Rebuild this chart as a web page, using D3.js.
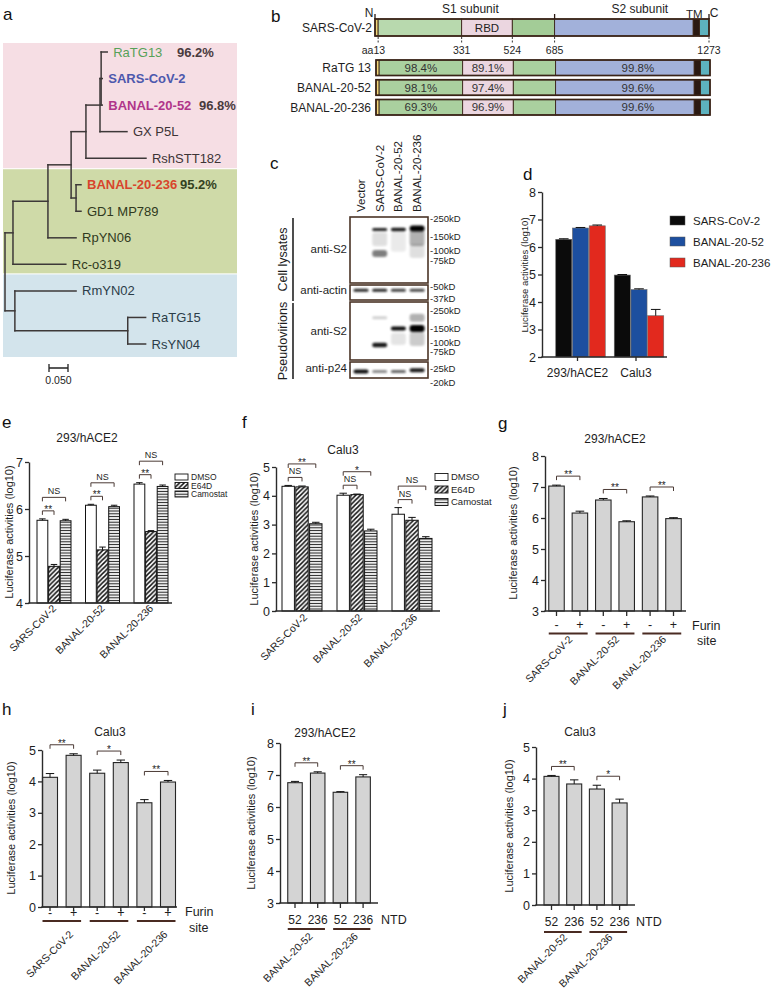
<!DOCTYPE html>
<html>
<head>
<meta charset="utf-8">
<script src="https://cdn.jsdelivr.net/npm/d3@7"></script>
<style>
html,body{margin:0;padding:0;background:#fff;}
svg{display:block;}
</style>
</head>
<body>
<svg id="fig" width="774" height="999"></svg>
<script>
// ======================= DATA =======================
// (a) phylogeny (branch lengths, substitutions/site)
const treeLeaves = ["RaTG13","SARS-CoV-2","BANAL-20-52","GX P5L","RshSTT182","BANAL-20-236","GD1 MP789","RpYN06","Rc-o319","RmYN02","RaTG15","RsYN04"];
const treeData = {name:"root", len:0, children:[
  {name:"n1", len:0.021, children:[
    {name:"n2", len:0.092, children:[
      {name:"n3", len:0.061, children:[
        {name:"n4", len:0.039, children:[
          {name:"n5", len:0.037, children:[
            {name:"n6", len:0.003, children:[
              {name:"RaTG13", len:0.016},
              {name:"SARS-CoV-2", len:0.003},
              {name:"BANAL-20-52", len:0.003}]},
            {name:"GX P5L", len:0.071}]},
          {name:"RshSTT182", len:0.158}]},
        {name:"n7", len:0.013, children:[
          {name:"BANAL-20-236", len:0.013},
          {name:"GD1 MP789", len:0.013}]}]},
      {name:"RpYN06", len:0.074}]},
    {name:"Rc-o319", len:0.139}]},
  {name:"n8", len:0.026, children:[
    {name:"RmYN02", len:0.161},
    {name:"n9", len:0.297, children:[
      {name:"RaTG15", len:0.047},
      {name:"RsYN04", len:0.047}]}]}]};
const identityLeaves = ["RaTG13","BANAL-20-52","BANAL-20-236"];
const identityValues = ["96.2%","96.8%","95.2%"];
const cladeGroups = [["RaTG13","RshSTT182"],["BANAL-20-236","Rc-o319"],["RmYN02","RsYN04"]];
const scaleBarValue = 0.05;
const scaleBarLabel = "0.050";

// (b) spike domains
const spikeRegions = [
  {name:"SP", start:1, end:13},
  {name:"NTD", start:13, end:331},
  {name:"RBD", start:331, end:524},
  {name:"SD", start:524, end:685},
  {name:"S2", start:685, end:1213},
  {name:"TM", start:1213, end:1237},
  {name:"CT", start:1237, end:1273}];
const spikeTicks = [13,331,524,685,1273];
const spikeVariants = ["RaTG 13","BANAL-20-52","BANAL-20-236"];
const ntdIdentity = ["98.4%","98.1%","69.3%"];
const rbdIdentity = ["89.1%","97.4%","96.9%"];
const s2Identity = ["99.8%","99.6%","99.6%"];

// (c) western blot
const blotLanes = ["Vector","SARS-CoV-2","BANAL-20-52","BANAL-20-236"];
const blotAntibodies = ["anti-S2","anti-actin","anti-S2","anti-p24"];
const blotGroups = [{name:"Cell lysates", blots:[0,1]},{name:"Pseudovirions", blots:[2,3]}];
const blotMarkers = [[250,150,100,75],[50,37],[250,150,100,75],[25,20]];
const blotBands = [
  [ {lane:1,kd:185,int:0.85,th:3}, {lane:1,kd:140,int:0.12,th:14}, {lane:1,kd:93,int:0.5,th:7},
    {lane:2,kd:185,int:0.9,th:3.5}, {lane:2,kd:130,int:0.08,th:20},
    {lane:3,kd:190,int:1.0,th:6}, {lane:3,kd:145,int:0.3,th:16}, {lane:3,kd:100,int:0.12,th:14} ],
  [ {lane:0,kd:46,int:0.85,th:3}, {lane:1,kd:46,int:0.85,th:3}, {lane:2,kd:46,int:0.75,th:3}, {lane:3,kd:46,int:0.72,th:3} ],
  [ {lane:1,kd:205,int:0.18,th:3}, {lane:1,kd:92,int:0.9,th:4.5},
    {lane:2,kd:150,int:0.95,th:4}, {lane:2,kd:110,int:0.1,th:12},
    {lane:3,kd:150,int:1.0,th:7}, {lane:3,kd:205,int:0.3,th:8}, {lane:3,kd:110,int:0.2,th:14} ],
  [ {lane:0,kd:24,int:0.95,th:4}, {lane:1,kd:24,int:0.45,th:3}, {lane:2,kd:24,int:0.6,th:3}, {lane:3,kd:24.5,int:0.9,th:4} ]
];

// (d)
const dCells = ["293/hACE2","Calu3"];
const dSeries = ["SARS-CoV-2","BANAL-20-52","BANAL-20-236"];
const dSARS = [6.28, 4.98];
const dB52 = [6.69, 4.45];
const dB236 = [6.77, 3.50];
const dErrSARS = [0.02, 0.02];
const dErrB52 = [0.02, 0.03];
const dErrB236 = [0.03, 0.23];

// (e), (f)
const inhibStrains = ["SARS-CoV-2","BANAL-20-52","BANAL-20-236"];
const treatments = ["DMSO","E64D","Camostat"];
const eDMSO = [5.76, 6.08, 6.53];
const eE64D = [4.78, 5.13, 5.52];
const eCamostat = [5.75, 6.05, 6.48];
const eErrDMSO = [0.03, 0.02, 0.03];
const eErrE64D = [0.04, 0.06, 0.02];
const eErrCamostat = [0.03, 0.03, 0.03];
const eSigE64D = ["**","**","**"];
const eSigCamostat = ["NS","NS","NS"];
const fDMSO = [4.33, 4.02, 3.36];
const fE64D = [4.31, 4.04, 3.15];
const fCamostat = [3.03, 2.78, 2.52];
const fErrDMSO = [0.03, 0.07, 0.23];
const fErrE64D = [0.03, 0.02, 0.10];
const fErrCamostat = [0.05, 0.06, 0.06];
const fSigE64D = ["NS","NS","NS"];
const fSigCamostat = ["**","*","NS"];

// (g), (h) furin site
const furinStrains = ["SARS-CoV-2","BANAL-20-52","BANAL-20-236"];
const furinSites = ["-","+"];
const gValues = [7.03, 6.16, 6.58, 5.88, 6.68, 5.98];
const gErrors = [0.03, 0.06, 0.05, 0.03, 0.03, 0.03];
const gSig = ["**","**","**"];
const hValues = [4.13, 4.83, 4.26, 4.60, 3.32, 3.98];
const hErrors = [0.12, 0.05, 0.10, 0.08, 0.10, 0.05];
const hSig = ["**","*","**"];

// (i), (j) NTD swap
const ntdStrains = ["BANAL-20-52","BANAL-20-236"];
const ntdLabels = ["52","236"];
const iValues = [6.76, 7.06, 6.46, 6.94];
const iErrors = [0.04, 0.04, 0.02, 0.07];
const iSig = ["**","**"];
const jValues = [4.07, 3.83, 3.67, 3.23];
const jErrors = [0.03, 0.13, 0.12, 0.12];
const jSig = ["**","*"];

// ======================= DRAWING =======================
const svg = d3.select("#fig");
const FONT = '"Liberation Sans", Arial, Helvetica, sans-serif';
svg.attr("font-family", FONT);
svg.append("rect").attr("width",774).attr("height",999).attr("fill","#fff");
const INK = "#1e1e1e", AXC = "#2b2b2b";

const defs = svg.append("defs");
const pd = defs.append("pattern").attr("id","diag").attr("patternUnits","userSpaceOnUse").attr("width",4.6).attr("height",4.6);
pd.append("rect").attr("width",4.6).attr("height",4.6).attr("fill","#fff");
pd.append("path").attr("d","M-1.15,1.15 l2.3,-2.3 M0,4.6 l4.6,-4.6 M3.45,5.75 l2.3,-2.3").attr("stroke","#111").attr("stroke-width",1.5);
const ph = defs.append("pattern").attr("id","horiz").attr("patternUnits","userSpaceOnUse").attr("width",4).attr("height",2.8);
ph.append("rect").attr("width",4).attr("height",2.8).attr("fill","#fff");
ph.append("line").attr("x1",0).attr("x2",4).attr("y1",1.4).attr("y2",1.4).attr("stroke","#222").attr("stroke-width",1.1);
const fb = defs.append("filter").attr("id","blur").attr("x","-30%").attr("y","-150%").attr("width","160%").attr("height","400%");
fb.append("feGaussianBlur").attr("stdDeviation",0.9);

function T(x,y,s,size,o={}){
  const t=svg.append("text").attr("x",x).attr("y",y).attr("font-size",size).attr("fill",o.fill||INK).text(s);
  if(o.anchor) t.attr("text-anchor",o.anchor);
  if(o.weight) t.attr("font-weight",o.weight);
  return t;
}
function TR(x,y,s,size,angle,anchor){
  return svg.append("text").attr("transform",`translate(${x},${y}) rotate(${angle})`)
    .attr("text-anchor",anchor).attr("font-size",size).attr("fill",INK).text(s);
}
function panelLabel(s,x,y){ T(x,y,s,17,{fill:"#111"}); }
function bandScale(domain, c0, step, bw){
  const r0 = c0 - step/2, pi = 1 - bw/step;
  return d3.scaleBand().domain(domain).range([r0, r0 + domain.length*step]).paddingInner(pi).paddingOuter(pi/2);
}
function bracket(x1,x2,yy,label){
  svg.append("path").attr("d",`M${x1},${yy+4}V${yy}H${x2}V${yy+4}`).attr("fill","none").attr("stroke","#4b3a35").attr("stroke-width",1);
  if(label==="NS") T((x1+x2)/2, yy-3, label, 9, {anchor:"middle"});
  else T((x1+x2)/2, yy+2, label, 10, {anchor:"middle"});
}
function yAxis(ax0, y, ticks, fs){
  const g = svg.append("g").attr("transform",`translate(${ax0},0)`)
    .call(d3.axisLeft(y).tickValues(ticks).tickSize(4).tickSizeOuter(0).tickPadding(2).tickFormat(d3.format("d")));
  g.attr("font-family",FONT).attr("font-size",fs||12.5);
  g.select(".domain").attr("stroke",AXC).attr("stroke-width",1.4);
  g.selectAll(".tick line").attr("stroke",AXC).attr("stroke-width",1.3);
  g.selectAll(".tick text").attr("fill",INK);
  return g;
}
function xLine(ax0, ax1, yy){
  svg.append("line").attr("x1",ax0-0.7).attr("x2",ax1).attr("y1",yy).attr("y2",yy).attr("stroke",AXC).attr("stroke-width",1.4);
}
function yLabel(x, yc, fs){
  svg.append("text").attr("transform",`translate(${x},${yc}) rotate(-90)`).attr("text-anchor","middle")
    .attr("dominant-baseline","central").attr("font-size",fs).attr("fill",INK).text("Luciferase activities (log10)");
}
function errBar(xc, y, v, e, cap){
  if(!e) return;
  const y0=y(v), y1=y(v+e);
  svg.append("path").attr("d",`M${xc},${y0}V${y1}M${xc-cap},${y1}H${xc+cap}`).attr("stroke","#111").attr("stroke-width",1).attr("fill","none");
}

// ---------- (a) ----------
panelLabel("a",3,20);
(function(){
  const A = {x0:5, yFirst:52, yLast:344, rectX:3, rectW:234};
  const tx = d3.scaleLinear().domain([0,scaleBarValue]).range([A.x0, A.x0+19]);
  const ty = d3.scalePoint().domain(treeLeaves).range([A.yFirst, A.yLast]);
  const cladeFill = ["#f6dee4","#cfdaa8","#d3e4ec"];
  const cladePad = [[-9,10],[-15.5,9],[-16.5,13]];
  const cladeText = ["#3d3436","#2f3920","#2b3c48"];
  const leafClade = {};
  cladeGroups.forEach((g,i)=>{
    const i0 = treeLeaves.indexOf(g[0]), i1 = treeLeaves.indexOf(g[1]);
    treeLeaves.slice(i0,i1+1).forEach(l=>leafClade[l]=i);
    const y0 = ty(g[0])+cladePad[i][0], y1 = ty(g[1])+cladePad[i][1];
    svg.append("rect").attr("x",A.rectX).attr("y",y0).attr("width",A.rectW).attr("height",y1-y0).attr("fill",cladeFill[i]);
  });
  const root = d3.hierarchy(treeData);
  root.eachBefore(n=>{ n.dist = n.parent ? n.parent.dist + n.data.len : 0; });
  root.eachAfter(n=>{ n.py = n.children ? (n.children[0].py + n.children[n.children.length-1].py)/2 : ty(n.data.name); });
  const tg = svg.append("g").attr("stroke","#3d3838").attr("stroke-width",1.5).attr("stroke-linecap","square").attr("fill","none");
  root.descendants().forEach(n=>{
    if(n.parent) tg.append("line").attr("x1",tx(n.parent.dist)).attr("x2",tx(n.dist)).attr("y1",n.py).attr("y2",n.py);
    if(n.children) tg.append("line").attr("x1",tx(n.dist)).attr("x2",tx(n.dist)).attr("y1",n.children[0].py).attr("y2",n.children[n.children.length-1].py);
  });
  const leafColor = {"RaTG13":"#57a158","SARS-CoV-2":"#4d58ad","BANAL-20-52":"#b0358a","BANAL-20-236":"#d8452c"};
  const bold = new Set(["SARS-CoV-2","BANAL-20-52","BANAL-20-236"]);
  const pctX = {"RaTG13":177,"BANAL-20-52":199,"BANAL-20-236":180};
  const pctColor = ["#4a3a3d","#4a3a3d","#34421f"];
  root.leaves().forEach(n=>{
    const nm = n.data.name;
    T(tx(n.dist)+6, n.py+4.5, nm, 13, {fill: leafColor[nm]||cladeText[leafClade[nm]], weight: bold.has(nm)?"bold":null});
  });
  identityLeaves.forEach((l,i)=>{
    T(pctX[l], ty(l)+4.5, identityValues[i], 13, {fill:pctColor[i], weight:"bold"});
  });
  // scale bar
  const sbx = 49, sby = 368;
  svg.append("path").attr("d",`M${sbx},${sby}H${sbx+tx(scaleBarValue)-tx(0)}M${sbx},${sby-4}V${sby+4}M${sbx+tx(scaleBarValue)-tx(0)},${sby-4}V${sby+4}`)
    .attr("stroke","#222").attr("stroke-width",1.3).attr("fill","none");
  T(sbx+(tx(scaleBarValue)-tx(0))/2, 384, scaleBarLabel, 10.5, {anchor:"middle"});
})();

// ---------- (b) ----------
panelLabel("b",271,22);
(function(){
  const B = {x0:375, x1:709, refY:19, refH:17, rowC0:67.75, rowStep:19.75, rowH:15.5, labelX:371, varShift:1};
  const aa = d3.scaleLinear().domain([1,1273]).range([B.x0,B.x1]);
  const refFill = {SP:"#f0d77a",NTD:"#b8d9ae",RBD:"#ebd6e0",SD:"#a3cc97",S2:"#a2b1da",TM:"#2a1912",CT:"#5db2be"};
  const varFill = Object.assign({}, refFill, {NTD:"#aad09f", SD:"#aad09f"});
  const nudge = {NTD:0, RBD:0, S2:13};
  const reg = n => spikeRegions.find(r=>r.name===n);
  const mid = n => (aa(reg(n).start)+aa(reg(n).end))/2 + nudge[n];
  function spikeBar(y0,h,fills,dx){
    const g = svg.append("g").attr("transform",`translate(${dx},0)`);
    spikeRegions.forEach(r=>{
      g.append("rect").attr("x",aa(r.start)).attr("y",y0).attr("width",aa(r.end)-aa(r.start)).attr("height",h)
        .attr("fill",fills[r.name]).attr("stroke","#3a2418").attr("stroke-width",0.9);
    });
    g.append("rect").attr("x",aa(1)).attr("y",y0).attr("width",aa(1273)-aa(1)).attr("height",h)
      .attr("fill","none").attr("stroke","#3a2418").attr("stroke-width",1.7);
  }
  spikeBar(B.refY, B.refH, refFill, 0);
  T(B.labelX+1, B.refY+B.refH/2+4.5, "SARS-CoV-2", 12, {anchor:"end"});
  T(mid("RBD"), B.refY+B.refH/2+4.5, "RBD", 11.5, {anchor:"middle"});
  svg.append("path").attr("d",`M${aa(1)},14V${B.refY}M${aa(685)},14V${B.refY}M${aa(1273)},14V${B.refY}`)
    .attr("stroke","#2a1912").attr("stroke-width",1.3);
  T(aa(1)-6, 17, "N", 12, {anchor:"middle"});
  T(aa(1273)+5, 17, "C", 12, {anchor:"middle"});
  T(aa(1225)-2, 18, "TM", 11.5, {anchor:"middle"});
  T((aa(13)+aa(685))/2+4, 13, "S1 subunit", 12, {anchor:"middle"});
  T((aa(685)+aa(1273))/2+8, 13, "S2 subunit", 12, {anchor:"middle"});
  spikeTicks.forEach((t,i)=>{
    svg.append("line").attr("x1",aa(t)).attr("x2",aa(t)).attr("y1",B.refY+B.refH+1).attr("y2",B.refY+B.refH+8)
      .attr("stroke","#333").attr("stroke-width",1).attr("stroke-dasharray","2,1.5");
    if(i===0) T(aa(t)+7, 54, "aa"+t, 10.5, {anchor:"end"});
    else T(aa(t), 54, String(t), 10.5, {anchor:"middle"});
  });
  const ry = bandScale(spikeVariants, B.rowC0, B.rowStep, B.rowH);
  spikeVariants.forEach((v,i)=>{
    const y0 = ry(v), h = ry.bandwidth();
    spikeBar(y0, h, varFill, B.varShift);
    T(B.labelX, y0+h/2+4.3, v, 12, {anchor:"end"});
    T(mid("NTD")+B.varShift, y0+h/2+4, ntdIdentity[i], 11.5, {anchor:"middle", fill:"#333"});
    T(mid("RBD")+B.varShift, y0+h/2+4, rbdIdentity[i], 11.5, {anchor:"middle", fill:"#333"});
    T(mid("S2")+B.varShift, y0+h/2+4, s2Identity[i], 11.5, {anchor:"middle", fill:"#333"});
  });
})();

// ---------- (c) ----------
panelLabel("c",270,169);
(function(){
  const C = {laneC0:361, laneStep:18.7, laneW:15, boxX0:350, boxX1:428,
    boxes:[[217,283],[285,300],[302,360],[362,378]],
    kdRange:[[219,261],[287,299],[311,352],[369,383]],
    abY:[249,290,331,368], abX:347, mwX:430, laneLabelY:212, groupX:283, groupLineX:293};
  const lx = bandScale(blotLanes, C.laneC0, C.laneStep, C.laneW);
  blotLanes.forEach(l=>{
    svg.append("text").attr("transform",`translate(${lx(l)+lx.bandwidth()/2+4},${C.laneLabelY}) rotate(-90)`)
      .attr("font-size",11.5).attr("fill",INK).text(l);
  });
  blotMarkers.forEach((mk,bi)=>{
    const [b0,b1] = C.boxes[bi];
    const ky = d3.scaleLog().domain([mk[0], mk[mk.length-1]]).range(C.kdRange[bi]);
    const g = svg.append("g");
    g.append("rect").attr("x",C.boxX0).attr("y",b0).attr("width",C.boxX1-C.boxX0).attr("height",b1-b0).attr("fill","#fff");
    const cp = "clip"+bi;
    defs.append("clipPath").attr("id",cp).append("rect").attr("x",C.boxX0).attr("y",b0).attr("width",C.boxX1-C.boxX0).attr("height",b1-b0);
    const bg = g.append("g").attr("clip-path",`url(#${cp})`);
    blotBands[bi].forEach(b=>{
      const xc = lx(blotLanes[b.lane]) + lx.bandwidth()/2;
      bg.append("rect").attr("x",xc-7.5).attr("y",ky(b.kd)-b.th/2).attr("width",15).attr("height",b.th)
        .attr("rx",Math.min(3,b.th/2)).attr("fill","#000").attr("opacity",b.int).attr("filter","url(#blur)");
    });
    g.append("rect").attr("x",C.boxX0).attr("y",b0).attr("width",C.boxX1-C.boxX0).attr("height",b1-b0)
      .attr("fill","none").attr("stroke","#4a3426").attr("stroke-width",1.6);
    mk.forEach(m=> T(C.mwX, ky(m)+3.3, "-"+m+"kD", 9.5, {}));
    T(C.abX, C.abY[bi]+4, blotAntibodies[bi], 11.5, {anchor:"end"});
  });
  blotGroups.forEach(gr=>{
    const y0 = C.boxes[gr.blots[0]][0]+1, y1 = C.boxes[gr.blots[gr.blots.length-1]][1]+1;
    svg.append("line").attr("x1",C.groupLineX).attr("x2",C.groupLineX).attr("y1",y0).attr("y2",y1).attr("stroke","#222").attr("stroke-width",1.6);
    svg.append("text").attr("transform",`translate(${C.groupX},${(y0+y1)/2}) rotate(-90)`).attr("text-anchor","middle")
      .attr("dominant-baseline","central").attr("font-size",12.5).attr("fill",INK).text(gr.name);
  });
})();

// ---------- (d) ----------
panelLabel("d",523,180);
(function(){
  const D = {c0:580.5, step:58.5, gw:49.5, ip:0.04, yBot:357, yTop:192, ax0:542, ax1:667};
  const y = d3.scaleLinear().domain([2,8]).range([D.yBot,D.yTop]);
  const gx = bandScale(dCells, D.c0, D.step, D.gw);
  const ix = d3.scaleBand().domain(dSeries).range([0,gx.bandwidth()]).paddingInner(D.ip);
  const vals = [dSARS, dB52, dB236], errs = [dErrSARS, dErrB52, dErrB236];
  const col = ["#0b0b0b","#1d4f9f","#e2291e"];
  dCells.forEach((c,ci)=>dSeries.forEach((s,si)=>{
    const x = gx(c)+ix(s), w = ix.bandwidth(), v = vals[si][ci];
    svg.append("rect").attr("x",x).attr("y",y(v)).attr("width",w).attr("height",y(2)-y(v)).attr("fill",col[si]).attr("stroke","#666").attr("stroke-width",0.6);
    errBar(x+w/2, y, v, errs[si][ci], w*0.3);
  }));
  yAxis(D.ax0, y, d3.range(2,9), 12.5);
  xLine(D.ax0, D.ax1, D.yBot);
  dCells.forEach(c=>{
    const xc = gx(c)+gx.bandwidth()/2 - 3;
    svg.append("line").attr("x1",xc).attr("x2",xc).attr("y1",D.yBot).attr("y2",D.yBot+4).attr("stroke",AXC).attr("stroke-width",1.3);
    T(xc, D.yBot+20, c, 12, {anchor:"middle"});
  });
  yLabel(524, 275, 9.5);
  const ly = d3.scalePoint().domain(dSeries).range([220.5,262.5]);
  dSeries.forEach((s,si)=>{
    svg.append("rect").attr("x",670).attr("y",ly(s)-4.5).attr("width",15).attr("height",9).attr("fill",col[si]).attr("stroke","#555").attr("stroke-width",0.5);
    T(693, ly(s)+4.3, s, 11.5, {});
  });
})();

// ---------- (e), (f) ----------
function treatPanel(o){
  const y = d3.scaleLinear().domain(o.domain).range([o.yBot,o.yTop]);
  const gx = bandScale(inhibStrains, o.c0, o.step, o.gw);
  const ix = d3.scaleBand().domain(treatments).range([0,gx.bandwidth()]).paddingInner(o.ip);
  const fills = ["#fff","url(#diag)","url(#horiz)"];
  inhibStrains.forEach((s,i)=>{
    treatments.forEach((t,k)=>{
      const x = gx(s)+ix(t), w = ix.bandwidth(), v = o.vals[k][i];
      svg.append("rect").attr("x",x).attr("y",y(v)).attr("width",w).attr("height",y(o.domain[0])-y(v))
        .attr("fill",fills[k]).attr("stroke","#111").attr("stroke-width",1);
      errBar(x+w/2, y, v, o.errs[k][i], w*0.3);
    });
    const cx = t => gx(s)+ix(t)+ix.bandwidth()/2;
    const top = Math.max(o.vals[0][i]+o.errs[0][i], o.vals[1][i]+o.errs[1][i]);
    const inner = y(top) - 8, outer = inner - 13.5;
    bracket(cx("DMSO"), cx("E64D"), inner, o.sigE[i]);
    bracket(cx("DMSO"), cx("Camostat"), outer, o.sigC[i]);
    TR(gx(s)+gx.bandwidth()/2+o.rotDx, o.rotY, s, 10.5, -45, "end");
  });
  yAxis(o.ax0, y, d3.range(o.domain[0], o.domain[1]+1), 12.5);
  xLine(o.ax0, o.ax1, o.yBot);
  T(o.titleX, o.titleY, o.title, 12, {anchor:"middle"});
  yLabel(o.ylX, o.ylY, 11);
  treatments.forEach((t,k)=>{
    const yy = o.leg.y0 + k*o.leg.dy;
    svg.append("rect").attr("x",o.leg.x).attr("y",yy-o.leg.h/2).attr("width",o.leg.w).attr("height",o.leg.h)
      .attr("fill",fills[k]).attr("stroke","#111").attr("stroke-width",0.9);
    T(o.leg.x+o.leg.w+3, yy+o.leg.fs*0.36, t, o.leg.fs, {});
  });
}
panelLabel("e",2,428);
treatPanel({vals:[eDMSO,eE64D,eCamostat], errs:[eErrDMSO,eErrE64D,eErrCamostat], sigE:eSigE64D, sigC:eSigCamostat,
  c0:54, step:48.5, gw:34, ip:0.07, domain:[4,7], yBot:603, yTop:462, ax0:29, ax1:172,
  title:"293/hACE2", titleX:87, titleY:442, ylX:9, ylY:532, rotDx:3, rotY:609,
  leg:{x:175, y0:477, dy:8.5, w:13, h:6, fs:8.5}});
panelLabel("f",242,428);
treatPanel({vals:[fDMSO,fE64D,fCamostat], errs:[fErrDMSO,fErrE64D,fErrCamostat], sigE:fSigE64D, sigC:fSigCamostat,
  c0:302, step:55, gw:40, ip:0.1, domain:[0,5], yBot:611, yTop:467, ax0:276, ax1:440,
  title:"Calu3", titleX:343, titleY:454, ylX:254, ylY:539, rotDx:6, rotY:618,
  leg:{x:435, y0:477, dy:12.5, w:13, h:7, fs:9.5}});

// ---------- (g)-(j) ----------
function pairPanel(o){
  const ids = d3.cross(o.groups, o.subs).map(([g,s])=>g+"|"+s);
  const x = bandScale(ids, o.c0, o.step, o.bw);
  const y = d3.scaleLinear().domain(o.domain).range([o.yBot,o.yTop]);
  const bw = x.bandwidth();
  ids.forEach((id,i)=>{
    svg.append("rect").attr("x",x(id)).attr("y",y(o.values[i])).attr("width",bw).attr("height",y(o.domain[0])-y(o.values[i]))
      .attr("fill","#d4d4d4").attr("stroke","#262626").attr("stroke-width",1.1);
    errBar(x(id)+bw/2, y, o.values[i], o.errors[i], bw*0.28);
  });
  yAxis(o.ax0, y, d3.range(o.domain[0], o.domain[1]+1), 12.5);
  xLine(o.ax0, o.ax1, o.yBot);
  ids.forEach((id,i)=>{
    const xc = x(id)+bw/2;
    svg.append("line").attr("x1",xc).attr("x2",xc).attr("y1",o.yBot).attr("y2",o.yBot+o.tickLen).attr("stroke",AXC).attr("stroke-width",1.3);
    T(xc, o.subY, o.subs[i % o.subs.length], o.subFs, {anchor:"middle"});
  });
  o.groups.forEach((g,gi)=>{
    const a = g+"|"+o.subs[0], b = g+"|"+o.subs[o.subs.length-1];
    const x0 = x(a), x1 = x(b)+bw;
    svg.append("line").attr("x1",x0).attr("x2",x1).attr("y1",o.ulY).attr("y2",o.ulY).attr("stroke","#4a2b22").attr("stroke-width",2);
    TR((x0+x1)/2+o.rotDx, o.rotY, g, 10.5, -45, "end");
    const top = Math.max(o.values[gi*2]+o.errors[gi*2], o.values[gi*2+1]+o.errors[gi*2+1]);
    bracket(x(a)+bw/2, x(b)+bw/2, y(top)-9, o.sig[gi]);
  });
  T(o.titleX, o.titleY, o.title, 12, {anchor:"middle"});
  yLabel(o.ylX, o.ylY, 11);
  o.extra.forEach(e=>T(e[0], e[1], e[2], 12.5, {}));
}
panelLabel("g",498,429);
pairPanel({groups:furinStrains, subs:furinSites, values:gValues, errors:gErrors, sig:gSig,
  c0:556.5, step:23.4, bw:15.5, domain:[3,8], yBot:611, yTop:456, ax0:545, ax1:686,
  tickLen:5, subY:629, subFs:12.5, ulY:633.5, rotDx:5, rotY:640,
  title:"293/hACE2", titleX:615, titleY:443, ylX:513, ylY:533,
  extra:[[692,630,"Furin"],[697,645,"site"]]});
panelLabel("h",2,715);
pairPanel({groups:furinStrains, subs:furinSites, values:hValues, errors:hErrors, sig:hSig,
  c0:50, step:23.6, bw:15, domain:[0,5], yBot:907, yTop:750, ax0:42, ax1:177,
  tickLen:4, subY:917, subFs:12.5, ulY:921, rotDx:12, rotY:935,
  title:"Calu3", titleX:110, titleY:736, ylX:11, ylY:828,
  extra:[[185,916,"Furin"],[189,932,"site"]]});
panelLabel("i",251,715);
pairPanel({groups:ntdStrains, subs:ntdLabels, values:iValues, errors:iErrors, sig:iSig,
  c0:295, step:22.7, bw:14.5, domain:[3,8], yBot:903, yTop:743, ax0:280, ax1:378,
  tickLen:5, subY:924, subFs:12, ulY:929, rotDx:7, rotY:937,
  title:"293/hACE2", titleX:325, titleY:737, ylX:251, ylY:823,
  extra:[[381,924,"NTD"]]});
panelLabel("j",503,715);
pairPanel({groups:ntdStrains, subs:ntdLabels, values:jValues, errors:jErrors, sig:jSig,
  c0:551.5, step:22.7, bw:15, domain:[0,5], yBot:905, yTop:747, ax0:536, ax1:635,
  tickLen:5, subY:926, subFs:12, ulY:932, rotDx:5, rotY:938,
  title:"Calu3", titleX:580, titleY:736, ylX:509, ylY:826,
  extra:[[636,926,"NTD"]]});
</script>
</body>
</html>
